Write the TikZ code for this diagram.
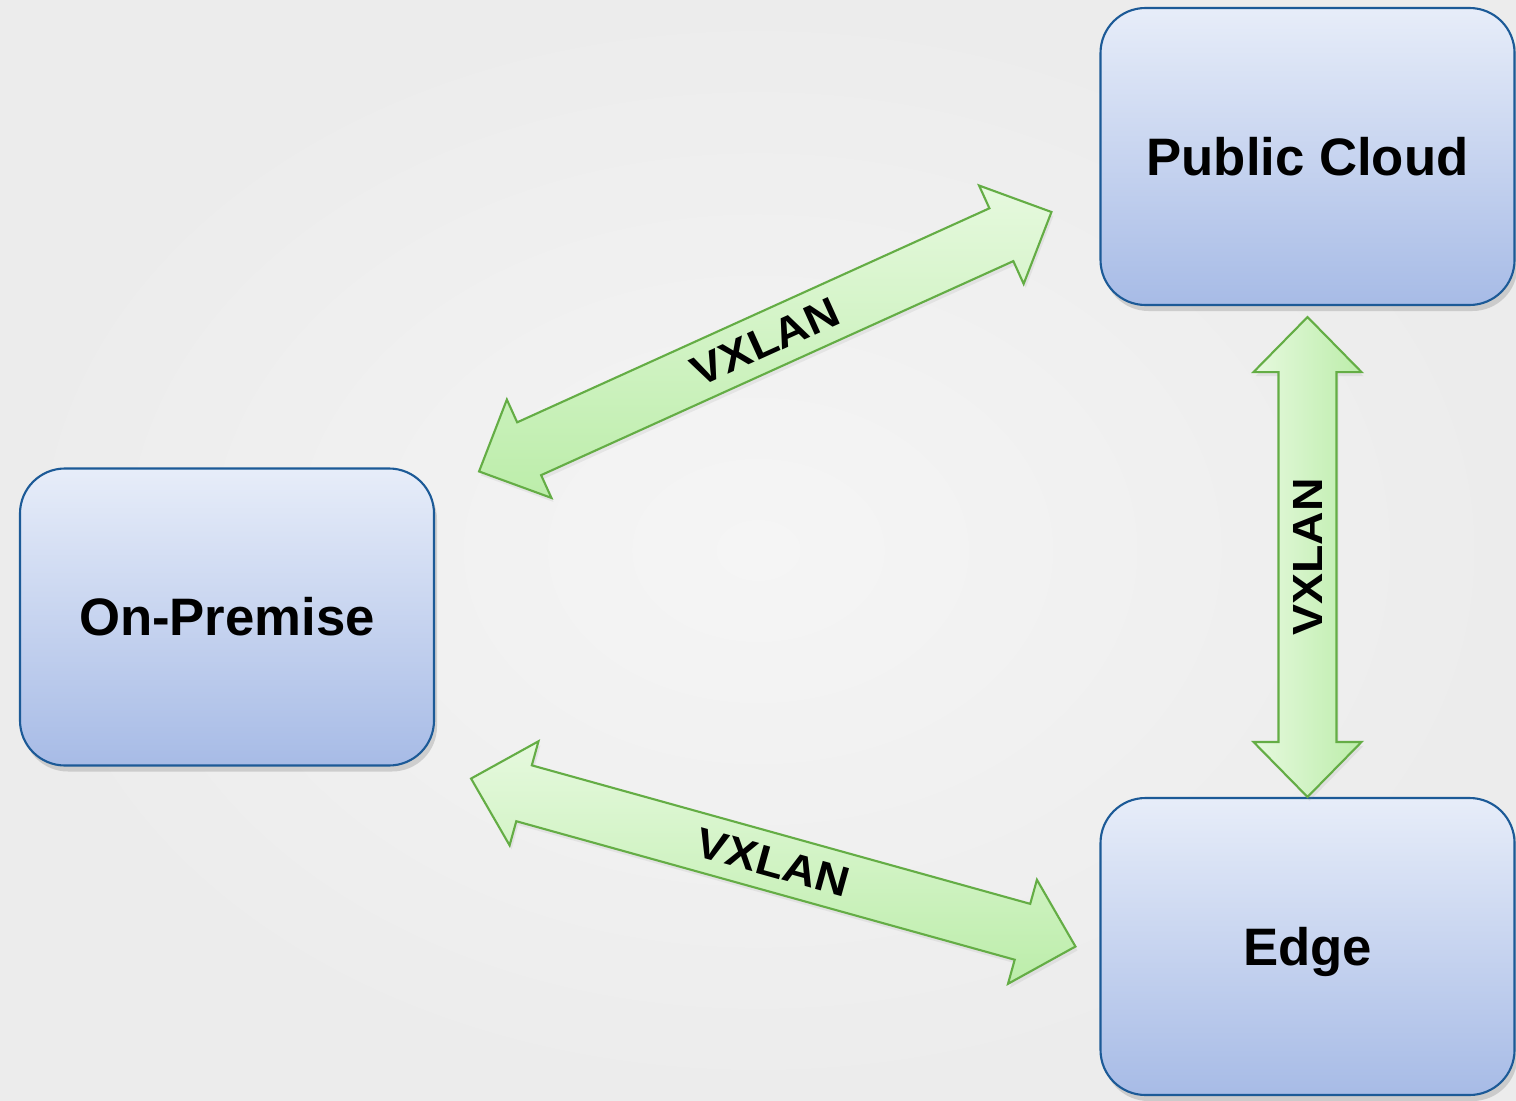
\documentclass[tikz,border=0pt]{standalone}
\usepackage{fontspec}
\setmainfont{Liberation Sans}
\newfontfamily\wideface[FakeStretch=1.1]{Liberation Sans}
\usetikzlibrary{positioning,calc,shadows}

\definecolor{bgin}{HTML}{F5F5F5}
\definecolor{bgout}{HTML}{ECECEC}
\definecolor{boxtop}{HTML}{E7EDF9}
\definecolor{boxbot}{HTML}{A7BBE6}
\definecolor{boxline}{HTML}{1C5A97}
\definecolor{lnkline}{HTML}{64AD45}
\definecolor{lnklight}{HTML}{E6F9DE}
\definecolor{lnkdark}{HTML}{BCEDAA}

% block arrow sizes
\newcommand\vxhead{0.55cm}
\newcommand\vxwide{0.54cm}
\newcommand\vxshaft{0.29cm}

% fat two-headed arrow between two tips, with its label
\newcommand\vxlink[4][]{%
  \draw[link,#1] (#2)
    -- ($(#2)!\vxhead!(#3)!\vxwide!90:(#3)$)
    -- ($(#2)!\vxhead!(#3)!\vxshaft!90:(#3)$)
    -- ($(#3)!\vxhead!(#2)!\vxshaft!-90:(#2)$)
    -- ($(#3)!\vxhead!(#2)!\vxwide!-90:(#2)$)
    -- (#3)
    -- ($(#3)!\vxhead!(#2)!\vxwide!90:(#2)$)
    -- ($(#3)!\vxhead!(#2)!\vxshaft!90:(#2)$)
    -- ($(#2)!\vxhead!(#3)!\vxshaft!-90:(#3)$)
    -- ($(#2)!\vxhead!(#3)!\vxwide!-90:(#3)$)
    -- cycle;
  \path (#2) -- node[lab, sloped] (#4) {VXLAN} (#3);}

\begin{document}
\begin{tikzpicture}[
  site/.style={draw=boxline, line width=0.6pt, rounded corners=0.45cm, top color=boxtop, bottom color=boxbot,
    minimum width=4.14cm, minimum height=2.97cm, font=\fontsize{15}{18}\selectfont\bfseries,
    text height=10.7pt, text depth=0pt,
    drop shadow={opacity=0.3, shadow xshift=0.03, shadow yshift=-0.06}},
  link/.style={draw=lnkline, line width=0.6pt, line join=miter, top color=lnklight, bottom color=lnkdark,
    drop shadow={opacity=0.12, shadow xshift=0.02, shadow yshift=-0.04}},
  lab/.style={font=\wideface\fontsize{12}{14}\selectfont\bfseries, inner sep=0pt}]
  \shade[inner color=bgin, outer color=bgout] (0,0) rectangle (15.16,-11);
  \useasboundingbox (0,0) rectangle (15.16,-11);

  \node[site] (prem) at (2.27,-6.17) {On-Premise};
  \node[site] (cloud) at (13.075,-1.565) {Public Cloud};
  \node[site] (edge) at (13.075,-9.465) {Edge};

  \coordinate (pc1) at ([shift={(0.44,-0.04)}]prem.north east);
  \coordinate (pc2) at ([shift={(-0.48,-0.555)}]cloud.west);
  \coordinate (ce1) at ([yshift=-0.11cm]cloud.south);
  \coordinate (ce2) at (edge.north);
  \coordinate (pe1) at ([shift={(0.36,-0.12)}]prem.south east);
  \coordinate (pe2) at ([xshift=-0.24cm]edge.west);

  \vxlink{pc1}{pc2}{vx1}
  \vxlink[left color=lnklight, right color=lnkdark]{ce2}{ce1}{vx2}
  \vxlink{pe1}{pe2}{vx3}
\end{tikzpicture}
\end{document}
